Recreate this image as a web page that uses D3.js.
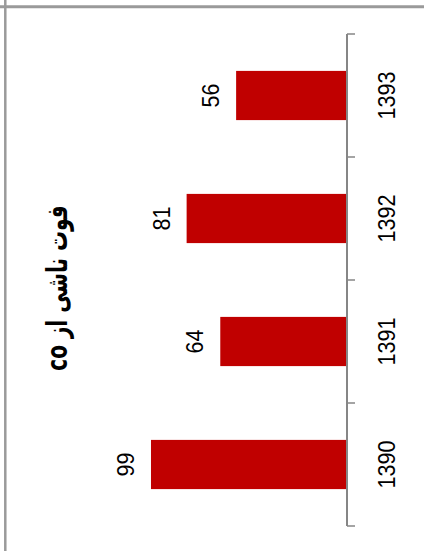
<!DOCTYPE html>
<html><head><meta charset="utf-8">
<script src="https://cdn.jsdelivr.net/npm/d3@7"></script>
<style>html,body{margin:0;padding:0;background:#fff;}</style>
</head><body>
<script>
const categories = ["1390", "1391", "1392", "1393"];
const values = [99, 64, 81, 56];
const title = "فوت ناشی از co";

const W = 424, H = 551;
const svg = d3.select("body").append("svg").attr("width", W).attr("height", H)
  .style("display", "block").style("background", "#fff");

// frame lines
svg.append("line").attr("x1", 5.3).attr("x2", 5.3).attr("y1", 0).attr("y2", H)
  .attr("stroke", "#9a9a9a").attr("stroke-width", 2.5);
svg.append("line").attr("x1", 0).attr("x2", W).attr("y1", 6.8).attr("y2", 6.8)
  .attr("stroke", "#9a9a9a").attr("stroke-width", 3);

const axisX = 347;
const y = d3.scaleBand().domain(categories.slice().reverse()).range([34, 526])
  .paddingInner(0.6).paddingOuter(0.3);
const x = d3.scaleLinear().domain([0, 120]).range([axisX, axisX - 237.6]);

// bars
svg.selectAll("rect.bar").data(categories).enter().append("rect")
  .attr("class", "bar")
  .attr("x", (d, i) => x(values[i]))
  .attr("width", (d, i) => x(0) - x(values[i]))
  .attr("y", d => y(d))
  .attr("height", y.bandwidth())
  .attr("fill", "#C00000");

// axis line and ticks at category boundaries
const step = y.step();
const bounds = [y.range()[0]].concat(categories.map(c => y(c) + y.bandwidth() + 0.3 * step));
svg.append("line").attr("x1", axisX).attr("x2", axisX)
  .attr("y1", y.range()[0]).attr("y2", y.range()[1])
  .attr("stroke", "#868686").attr("stroke-width", 2);
svg.selectAll("line.tick").data(bounds).enter().append("line")
  .attr("class", "tick")
  .attr("x1", axisX).attr("x2", axisX + 8)
  .attr("y1", d => d).attr("y2", d => d)
  .attr("stroke", "#868686").attr("stroke-width", 1.5);

// category labels
svg.selectAll("text.cat").data(categories).enter().append("text")
  .attr("class", "cat")
  .attr("transform", d => `translate(395,${y(d) + y.bandwidth() / 2}) rotate(-90) scale(0.98,1.1)`)
  .attr("text-anchor", "middle")
  .attr("font-family", "Liberation Sans, Arial, sans-serif")
  .attr("font-size", 22)
  .attr("fill", "#000")
  .text(d => d);

// value labels
svg.selectAll("text.val").data(categories).enter().append("text")
  .attr("class", "val")
  .attr("transform", (d, i) => `translate(${x(values[i]) - 17},${y(d) + y.bandwidth() / 2}) rotate(-90) scale(0.98,1.1)`)
  .attr("text-anchor", "middle")
  .attr("font-family", "Liberation Sans, Arial, sans-serif")
  .attr("font-size", 22)
  .attr("fill", "#000")
  .text((d, i) => values[i]);

// title
svg.append("text")
  .attr("transform", `translate(67,288) rotate(-90) scale(1,1.45)`)
  .attr("text-anchor", "middle")
  .attr("direction", "rtl")
  .attr("unicode-bidi", "embed")
  .attr("font-family", "DejaVu Sans, Liberation Sans, sans-serif")
  .attr("font-weight", "bold")
  .attr("font-size", 20)
  .attr("fill", "#000")
  .text(title);
</script>
</body></html>
